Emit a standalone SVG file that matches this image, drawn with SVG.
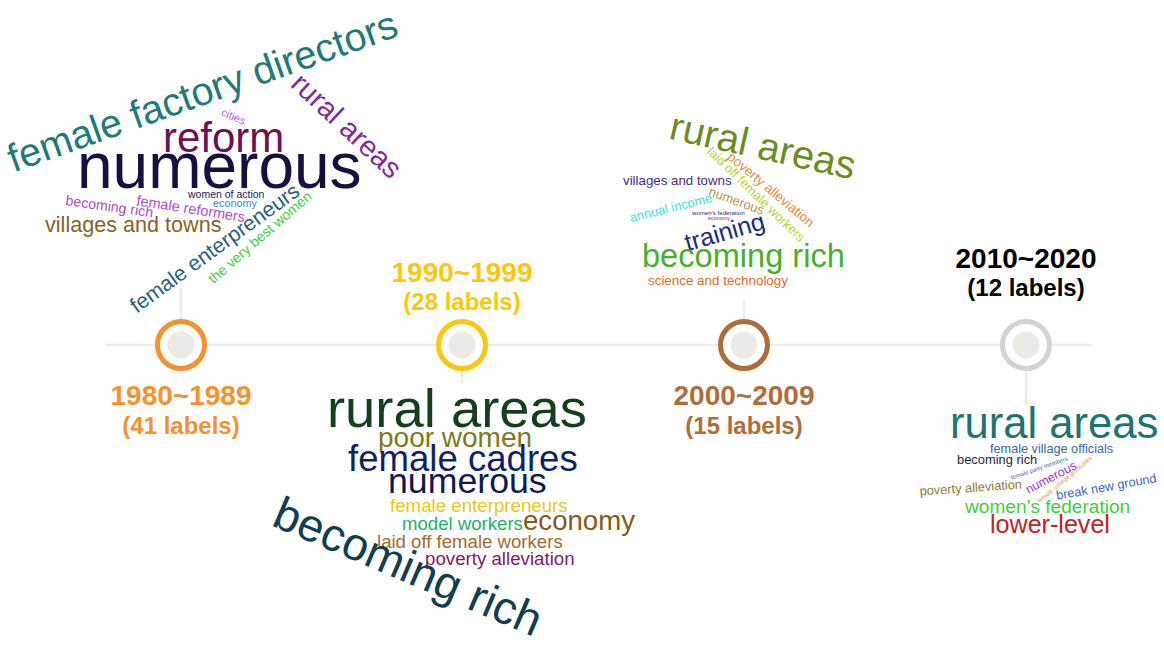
<svg xmlns="http://www.w3.org/2000/svg" width="1164" height="645" viewBox="0 0 1164 645">
  <style>
    .w { font-family: "Liberation Sans", Arial, Helvetica, sans-serif; }
    .mid { text-anchor: middle; }
    .lbl { font-family: "Liberation Sans", Arial, Helvetica, sans-serif; font-weight: bold; text-anchor: middle; }
    .yr { font-size: 28px; }
    .cnt { font-size: 24px; }
    .ring { fill: #ffffff; stroke-width: 5; }
    .dot { fill: #ebebe6; }
    .axis { stroke: #ecece8; stroke-width: 2.5; fill: none; }
  </style>
  <rect width="1164" height="645" fill="#ffffff"/>

  <!-- axis and stems -->
  <g id="connectors">
    <line class="axis" x1="105" y1="345" x2="1093" y2="345"/>
    <line class="axis" x1="181" y1="288" x2="181" y2="321"/>
    <line class="axis" x1="462" y1="369" x2="462" y2="383"/>
    <line class="axis" x1="744" y1="300" x2="744" y2="321"/>
    <line class="axis" x1="1026" y1="369" x2="1026" y2="405"/>
  </g>

  <!-- 1980s -->
  <g id="period-1980s">
    <g class="w">
      <text transform="translate(207,104) rotate(-19.5)" class="mid" font-size="39.5" fill="#1e7b78">female factory directors</text>
      <text x="163" y="152" font-size="42" fill="#6d1150">reform</text>
      <text x="77" y="188" font-size="64" fill="#170f3f">numerous</text>
      <text transform="translate(340,133) rotate(43)" class="mid" font-size="29" fill="#7b2ea3">rural areas</text>
      <text transform="translate(232,120) rotate(24)" class="mid" font-size="11" fill="#b55fd8">cities</text>
      <text x="188" y="198" font-size="10.5" fill="#1e1b52">women of action</text>
      <text x="213" y="207" font-size="10.8" fill="#3f86c7">economy</text>
      <text transform="translate(136,205) rotate(9)" font-size="14.5" fill="#b24fc9">female reformers</text>
      <text transform="translate(65,205) rotate(8)" font-size="14.2" fill="#a94fbd">becoming rich</text>
      <text x="45" y="232" font-size="21.6" fill="#8b6322">villages and towns</text>
      <text transform="translate(219,254) rotate(-36)" class="mid" font-size="21.4" fill="#2d5f80">female enterpreneurs</text>
      <text transform="translate(263,241) rotate(-41)" class="mid" font-size="14.3" fill="#45cf45">the very best women</text>
    </g>
    <circle class="ring" cx="181" cy="345" r="23.5" stroke="#f5922f"/>
    <circle class="dot" cx="181" cy="345" r="13.5"/>
    <text class="lbl yr" x="181" y="405" fill="#f5922f">1980~1989</text>
    <text class="lbl cnt" x="181" y="434" fill="#f5922f">(41 labels)</text>
  </g>

  <!-- 1990s -->
  <g id="period-1990s">
    <text class="lbl yr" x="462" y="282" fill="#fcc711">1990~1999</text>
    <text class="lbl cnt" x="462" y="310" fill="#fcc711">(28 labels)</text>
    <circle class="ring" cx="462" cy="345" r="23.5" stroke="#fcc711"/>
    <circle class="dot" cx="462" cy="345" r="13.5"/>
    <g class="w">
      <text x="327" y="427" font-size="54.4" fill="#133f1d">rural areas</text>
      <text x="378" y="447" font-size="28" fill="#817a1b">poor women</text>
      <text x="348" y="471" font-size="36.6" fill="#101f6c">female cadres</text>
      <text x="388" y="493" font-size="35.7" fill="#0d1b4e">numerous</text>
      <text x="390" y="512" font-size="18.7" fill="#e8c81c">female enterpreneurs</text>
      <text x="402" y="530" font-size="18.6" fill="#22b36b">model workers</text>
      <text x="523" y="530" font-size="27.6" fill="#87591b">economy</text>
      <text x="377" y="548" font-size="18.6" fill="#a16b2f">laid off female workers</text>
      <text x="425" y="565" font-size="18.7" fill="#7b2068">poverty alleviation</text>
      <text transform="translate(402,581) rotate(23)" class="mid" font-size="46" fill="#113f50">becoming rich</text>
    </g>
  </g>

  <!-- 2000s -->
  <g id="period-2000s">
    <g class="w">
      <text transform="translate(760,159) rotate(12.5)" class="mid" font-size="39.5" fill="#6c8d1d">rural areas</text>
      <text transform="translate(753,197.5) rotate(44)" class="mid" font-size="13" fill="#b7d43a">laid off female workers</text>
      <text transform="translate(768,193) rotate(40)" class="mid" font-size="13.5" fill="#e98c3c">poverty alleviation</text>
      <text x="623" y="185" font-size="13.3" fill="#4b2a86">villages and towns</text>
      <text transform="translate(735,205) rotate(20)" class="mid" font-size="13" fill="#c68f4a">numerous</text>
      <text transform="translate(672,212) rotate(-14)" class="mid" font-size="13" fill="#3fe0e6">annual income</text>
      <text x="692" y="215" font-size="6.1" fill="#2a2a6a">women's federation</text>
      <text x="708" y="220" font-size="5.4" fill="#9b2b2b">economy</text>
      <text transform="translate(727,240) rotate(-16)" class="mid" font-size="25" fill="#1b2a86">training</text>
      <text x="642" y="267" font-size="32.6" fill="#49b02b">becoming rich</text>
      <text x="648" y="285" font-size="13.4" fill="#e26d24">science and technology</text>
    </g>
    <circle class="ring" cx="744" cy="345" r="23.5" stroke="#b06d3c"/>
    <circle class="dot" cx="744" cy="345" r="13.5"/>
    <text class="lbl yr" x="744" y="405" fill="#b06d3c">2000~2009</text>
    <text class="lbl cnt" x="744" y="434" fill="#b06d3c">(15 labels)</text>
  </g>

  <!-- 2010s -->
  <g id="period-2010s">
    <text class="lbl yr" x="1026" y="268" fill="#000000">2010~2020</text>
    <text class="lbl cnt" x="1026" y="296" fill="#000000">(12 labels)</text>
    <circle class="ring" cx="1026" cy="345" r="23.5" stroke="#d5d3d0"/>
    <circle class="dot" cx="1026" cy="345" r="13.5"/>
    <g class="w">
      <text x="950" y="438" font-size="43.6" fill="#1e7471">rural areas</text>
      <text x="990" y="453" font-size="12.7" fill="#3a68a8">female village officials</text>
      <text x="957" y="464" font-size="12.9" fill="#1f1f45">becoming rich</text>
      <text transform="translate(1040,470) rotate(-19)" class="mid" font-size="6" fill="#4a5cb0">female party members</text>
      <text transform="translate(1053,481) rotate(-28)" class="mid" font-size="12.5" fill="#9a35d6">numerous</text>
      <text transform="translate(1066,481) rotate(-40)" class="mid" font-size="6.2" fill="#e3964a">female college graduates</text>
      <text transform="translate(971,492) rotate(-4)" class="mid" font-size="12.8" fill="#8e7a33">poverty alleviation</text>
      <text transform="translate(1107,491) rotate(-10)" class="mid" font-size="12.7" fill="#3b66c8">break new ground</text>
      <text x="965" y="513" font-size="19.1" fill="#3fcf3a">women’s federation</text>
      <text x="990" y="533" font-size="25.1" fill="#c42222">lower-level</text>
    </g>
  </g>
</svg>
